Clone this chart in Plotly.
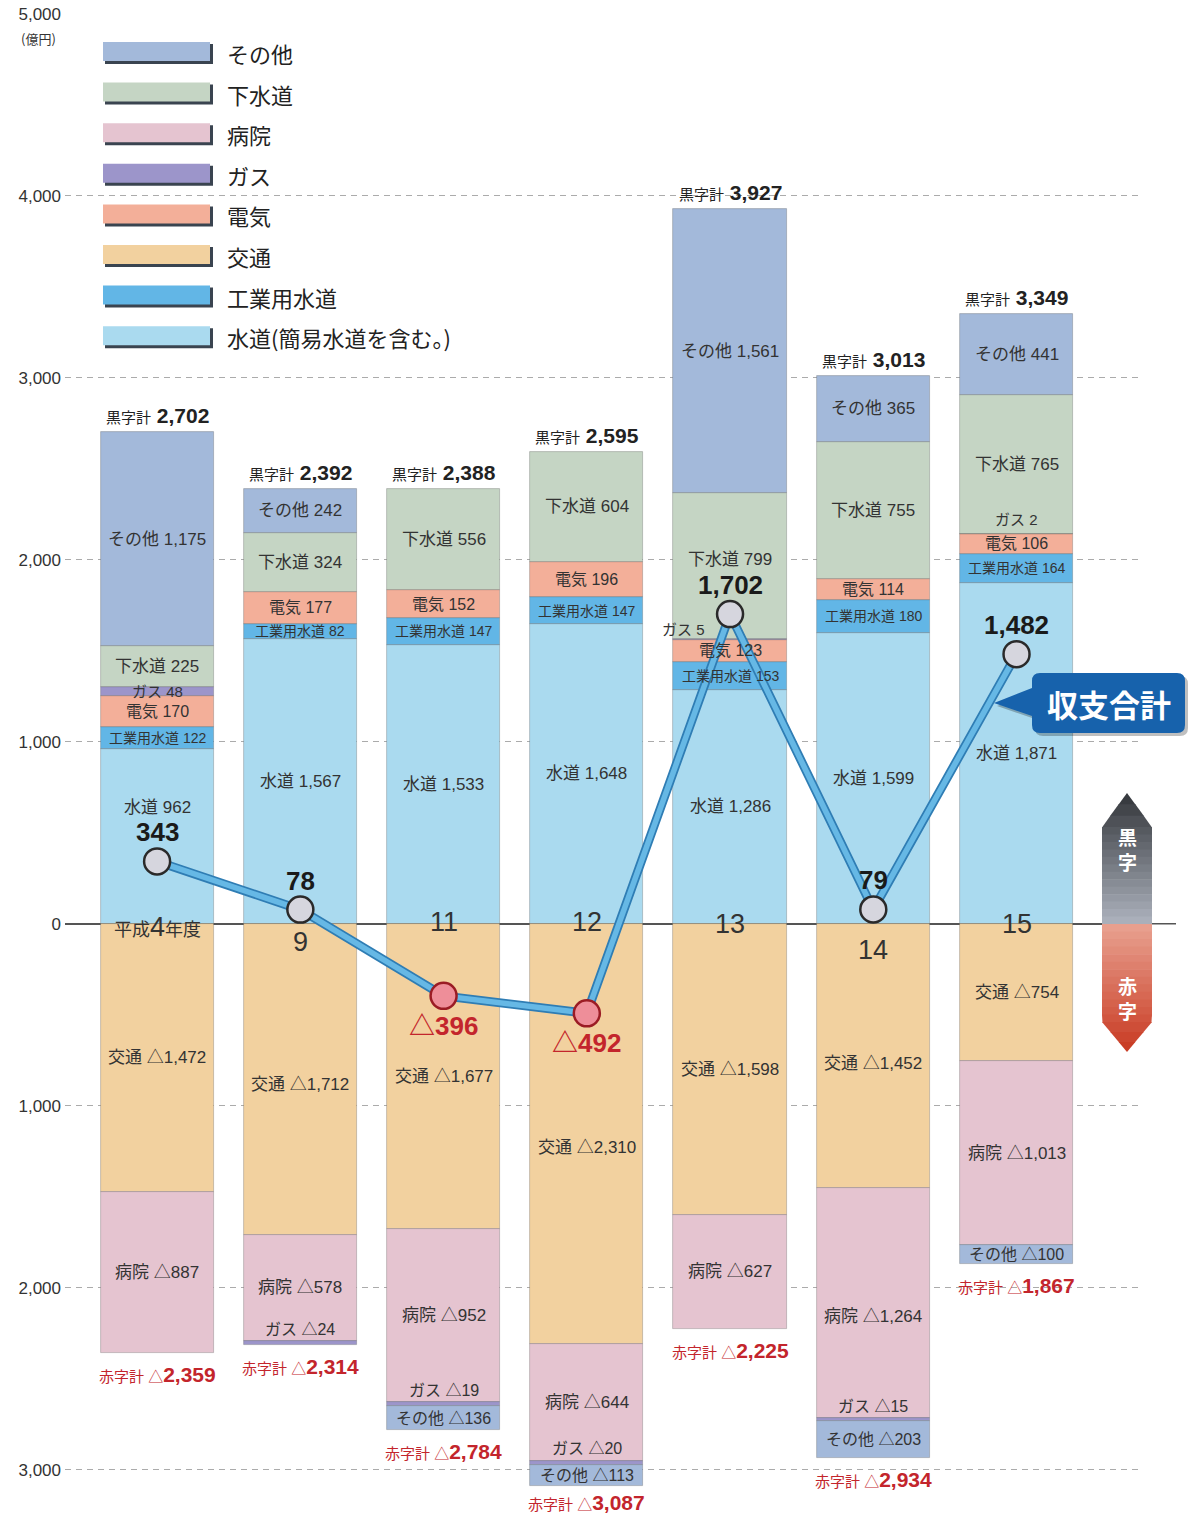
import plotly.graph_objects as go
import numpy as np

# ---------------- data ----------------
years = ["平成4年度", "9", "11", "12", "13", "14", "15"]

suido = [962, 1567, 1533, 1648, 1286, 1599, 1871]      # 水道(簡易水道を含む。)
kogyo = [122, 82, 147, 147, 153, 180, 164]             # 工業用水道
denki = [170, 177, 152, 196, 123, 114, 106]            # 電気
gas_pos = [48, 0, 0, 0, 5, 0, 2]                       # ガス (黒字)
gesui = [225, 324, 556, 604, 799, 755, 765]            # 下水道
sonota_pos = [1175, 242, 0, 0, 1561, 365, 441]         # その他 (黒字)

kotsu = [1472, 1712, 1677, 2310, 1598, 1452, 754]      # 交通 (赤字)
byoin = [887, 578, 952, 644, 627, 1264, 1013]          # 病院 (赤字)
gas_neg = [0, 24, 19, 20, 0, 15, 0]                    # ガス (赤字)
sonota_neg = [0, 0, 136, 113, 0, 203, 100]             # その他 (赤字)

surplus_total = [2702, 2392, 2388, 2595, 3927, 3013, 3349]
deficit_total = [2359, 2314, 2784, 3087, 2225, 2934, 1867]
net_total = [343, 78, -396, -492, 1702, 79, 1482]

tick_values = [5000, 4000, 3000, 2000, 1000, 0, -1000, -2000, -3000]

# ---------------- style ----------------
C_SONOTA = "#A3B9DA"
C_GESUI = "#C5D5C4"
C_BYOIN = "#E5C4D0"
C_GAS = "#9C95CA"
C_DENKI = "#F3AF99"
C_KOTSU = "#F2D19F"
C_KOGYO = "#62B6E6"
C_SUIDO = "#AADAEF"
RED = "#C3252C"
TXT = "#333333"
FONT = "Liberation Sans, Noto Sans CJK JP, sans-serif"
JFONT = "Noto Sans CJK JP, sans-serif"

W, H = 1194, 1515
ML, MR, MT, MB = 65, 54, 14, 18
Y_MIN, Y_MAX = -3150, 5000
X_MIN, X_MAX = -0.643, 6.862
PW = W - ML - MR
PH = H - MT - MB


def pxx(px):
    return (px - ML) / PW


def pxy(py):
    return 1 - (py - MT) / PH


xs = list(range(len(years)))

pos_series = [
    ("水道", suido, C_SUIDO, 17),
    ("工業用水道", kogyo, C_KOGYO, 14),
    ("電気", denki, C_DENKI, 16),
    ("ガス", gas_pos, C_GAS, 15),
    ("下水道", gesui, C_GESUI, 17),
    ("その他", sonota_pos, C_SONOTA, 17),
]
neg_series = [
    ("交通", kotsu, C_KOTSU, 17),
    ("病院", byoin, C_BYOIN, 17),
    ("ガス", gas_neg, C_GAS, 16),
    ("その他", sonota_neg, C_SONOTA, 16),
]

# label placement tweaks (pixels): (sign, name, index) -> (xshift, yshift)
tweaks = {
    ("+", "水道", 0): (0, 29),
    ("+", "ガス", 4): (-47, 10),
    ("+", "ガス", 6): (0, 15),
    ("+", "下水道", 4): (0, 6),
    ("-", "ガス", 1): (0, 13),
    ("-", "ガス", 2): (0, 13),
    ("-", "ガス", 3): (0, 15),
    ("-", "ガス", 5): (0, 13),
    ("-", "交通", 1): (0, -5),
    ("-", "交通", 3): (0, -14),
    ("-", "交通", 5): (0, -8),
    ("-", "病院", 5): (0, -13),
}
deficit_label_shift = [-8, -8, -8, -3, -8, -8, -8]

fig = go.Figure()
annotations = []

bar_line = dict(width=0.8, color="rgba(70,70,70,0.35)")
BAR_W = 0.79

pos_cum = [0] * len(xs)
for name, vals, color, fs in pos_series:
    fig.add_trace(go.Bar(
        x=xs, y=[v if v else None for v in vals], width=BAR_W,
        marker=dict(color=color, line=bar_line), name=name,
        showlegend=False, hoverinfo="skip"))
    for i, v in enumerate(vals):
        if not v:
            continue
        c = pos_cum[i] + v / 2
        pos_cum[i] += v
        dx, dy = tweaks.get(("+", name, i), (0, 0))
        annotations.append(dict(
            x=xs[i], y=c, xref="x", yref="y", text=f"{name} {v:,}",
            showarrow=False, xshift=dx, yshift=dy,
            font=dict(family=FONT, size=fs, color=TXT)))

neg_cum = [0] * len(xs)
for name, vals, color, fs in neg_series:
    fig.add_trace(go.Bar(
        x=xs, y=[-v if v else None for v in vals], width=BAR_W,
        marker=dict(color=color, line=bar_line), name=name,
        showlegend=False, hoverinfo="skip"))
    for i, v in enumerate(vals):
        if not v:
            continue
        c = neg_cum[i] - v / 2
        neg_cum[i] -= v
        dx, dy = tweaks.get(("-", name, i), (0, 0))
        annotations.append(dict(
            x=xs[i], y=c, xref="x", yref="y", text=f"{name} △{v:,}",
            showarrow=False, xshift=dx, yshift=dy,
            font=dict(family=FONT, size=fs, color=TXT)))

# net total line
fig.add_trace(go.Scatter(
    x=xs, y=net_total, mode="lines",
    line=dict(color="#2F7DB4", width=9), showlegend=False, hoverinfo="skip"))
fig.add_trace(go.Scatter(
    x=xs, y=net_total, mode="lines",
    line=dict(color="#66B8E5", width=5.5), showlegend=False, hoverinfo="skip"))
fig.add_trace(go.Scatter(
    x=xs, y=net_total, mode="markers",
    marker=dict(size=26,
                color=["#D6D6DE" if v >= 0 else "#EE8E99" for v in net_total],
                line=dict(width=2.5,
                          color=["#2A2A2A" if v >= 0 else "#9B1C24" for v in net_total])),
    showlegend=False, hoverinfo="skip"))

# total labels
for i in xs:
    annotations.append(dict(
        x=xs[i], y=surplus_total[i], xref="x", yref="y", yanchor="bottom",
        yshift=3, showarrow=False,
        text=f"<span style='font-size:15px'>黒字計</span> <b>{surplus_total[i]:,}</b>",
        font=dict(family=FONT, size=21, color="#222222")))
    annotations.append(dict(
        x=xs[i], y=-deficit_total[i], xref="x", yref="y", yanchor="top",
        yshift=deficit_label_shift[i], showarrow=False,
        text=f"<span style='font-size:15px'>赤字計 △</span><b>{deficit_total[i]:,}</b>",
        font=dict(family=FONT, size=21, color=RED)))

# net labels
for i, v in enumerate(net_total):
    if v >= 0:
        annotations.append(dict(
            x=xs[i], y=v, xref="x", yref="y", yshift=29, showarrow=False,
            text=f"<b>{v:,}</b>", font=dict(family=FONT, size=26, color="#1A1A1A")))
    else:
        annotations.append(dict(
            x=xs[i], y=v, xref="x", yref="y", yshift=-30, showarrow=False,
            text=f"<b>△{abs(v):,}</b>", font=dict(family=FONT, size=26, color=RED)))

# year labels at the zero line
year_shift = [-3, -18, 2, 2, 0, -26, 0]
for i, yl in enumerate(years):
    if i == 0:
        txt = yl.replace("4", "<span style='font-size:27px'>4</span>")
        fs = 18
    else:
        txt = yl
        fs = 27
    annotations.append(dict(
        x=xs[i], y=0, xref="x", yref="y", yshift=year_shift[i], showarrow=False,
        text=txt, font=dict(family=FONT, size=fs, color=TXT)))


def paper_text(px, py, text, size, color, family=JFONT, xanchor="center"):
    return dict(x=pxx(px), y=pxy(py), xref="paper", yref="paper",
                xanchor=xanchor, yanchor="middle", showarrow=False, text=text,
                font=dict(family=family, size=size, color=color))


# unit label
annotations.append(paper_text(38, 38, "(億円)", 13, TXT))

shapes = []

# zero line extending to the right
shapes.append(dict(type="line", xref="paper", yref="y", x0=0, x1=pxx(1176),
                   y0=0, y1=0, line=dict(color="#555555", width=1.5), layer="between"))

# legend (manual)
legend_items = [
    ("その他", C_SONOTA), ("下水道", C_GESUI), ("病院", C_BYOIN), ("ガス", C_GAS),
    ("電気", C_DENKI), ("交通", C_KOTSU), ("工業用水道", C_KOGYO),
    ("水道(簡易水道を含む。)", C_SUIDO),
]
for k, (lab, col) in enumerate(legend_items):
    cy = 52 + k * 40.6
    shapes.append(dict(type="rect", xref="paper", yref="paper",
                       x0=pxx(105), x1=pxx(213), y0=pxy(cy + 12), y1=pxy(cy - 8),
                       fillcolor="#3A4450", line=dict(width=0), layer="above"))
    shapes.append(dict(type="rect", xref="paper", yref="paper",
                       x0=pxx(103), x1=pxx(210), y0=pxy(cy + 9), y1=pxy(cy - 10),
                       fillcolor=col, line=dict(width=0), layer="above"))
    annotations.append(paper_text(225, cy + 1, lab, 22, "#222222", xanchor="left"))

# 黒字 / 赤字 arrow with gradient bands
cx, hw = 1127, 25
top_tip, top_sh, zero_px, bot_sh, bot_tip = 793, 827, 924, 1022, 1052


def half_w(y):
    if y < top_sh:
        return hw * (y - top_tip) / (top_sh - top_tip)
    if y > bot_sh:
        return hw * (bot_tip - y) / (bot_tip - bot_sh)
    return hw


def lerp_col(c1, c2, t):
    a = np.array([int(c1[i:i + 2], 16) for i in (1, 3, 5)])
    b = np.array([int(c2[i:i + 2], 16) for i in (1, 3, 5)])
    c = (a + (b - a) * t).round().astype(int)
    return "#%02X%02X%02X" % tuple(c)


def band(ya, yb, col):
    wa, wb = half_w(ya), half_w(yb)
    path = (f"M {pxx(cx - wa)} {pxy(ya)} L {pxx(cx + wa)} {pxy(ya)} "
            f"L {pxx(cx + wb)} {pxy(yb)} L {pxx(cx - wb)} {pxy(yb)} Z")
    return dict(type="path", xref="paper", yref="paper", path=path,
                fillcolor=col, line=dict(width=0), layer="above")


top_b = list(np.linspace(top_tip, top_sh, 4)) + list(np.linspace(top_sh, zero_px, 14)[1:])
for a, b in zip(top_b[:-1], top_b[1:]):
    t = ((a + b) / 2 - top_tip) / (zero_px - top_tip)
    shapes.append(band(a, min(b + 0.6, zero_px), lerp_col("#33363A", "#AEB3BE", t)))
bot_b = list(np.linspace(zero_px, bot_sh, 14)) + list(np.linspace(bot_sh, bot_tip, 4)[1:])
for a, b in zip(bot_b[:-1], bot_b[1:]):
    t = ((a + b) / 2 - zero_px) / (bot_tip - zero_px)
    shapes.append(band(a, min(b + 0.6, bot_tip), lerp_col("#E9A291", "#C83A22", t)))

annotations.append(paper_text(cx, 849, "<b>黒<br>字</b>", 19, "white"))
annotations.append(paper_text(cx, 998, "<b>赤<br>字</b>", 19, "white"))


# 収支合計 callout
def callout_path(off):
    x0, x1, y0, y1, r = 1032 + off, 1185 + off, 673 + off, 733 + off, 8
    tipx, tipy = 994 + off, 703 + off
    wt, wb = 688 + off, 716 + off
    pts = [
        f"M {pxx(x0 + r)} {pxy(y0)}",
        f"L {pxx(x1 - r)} {pxy(y0)}",
        f"Q {pxx(x1)} {pxy(y0)} {pxx(x1)} {pxy(y0 + r)}",
        f"L {pxx(x1)} {pxy(y1 - r)}",
        f"Q {pxx(x1)} {pxy(y1)} {pxx(x1 - r)} {pxy(y1)}",
        f"L {pxx(x0 + r)} {pxy(y1)}",
        f"Q {pxx(x0)} {pxy(y1)} {pxx(x0)} {pxy(y1 - r)}",
        f"L {pxx(x0)} {pxy(wb)}",
        f"L {pxx(tipx)} {pxy(tipy)}",
        f"L {pxx(x0)} {pxy(wt)}",
        f"L {pxx(x0)} {pxy(y0 + r)}",
        f"Q {pxx(x0)} {pxy(y0)} {pxx(x0 + r)} {pxy(y0)}",
        "Z",
    ]
    return " ".join(pts)


shapes.append(dict(type="path", xref="paper", yref="paper", path=callout_path(3),
                   fillcolor="rgba(0,0,0,0.25)", line=dict(width=0), layer="above"))
shapes.append(dict(type="path", xref="paper", yref="paper", path=callout_path(0),
                   fillcolor="#1762AC", line=dict(width=0), layer="above"))
annotations.append(paper_text(1109, 704, "<b>収支合計</b>", 31, "white"))

fig.update_layout(
    width=W, height=H,
    margin=dict(l=ML, r=MR, t=MT, b=MB, autoexpand=False),
    paper_bgcolor="white", plot_bgcolor="white",
    barmode="relative", bargap=0,
    xaxis=dict(range=[X_MIN, X_MAX], showgrid=False, zeroline=False,
               showticklabels=False, showline=False, fixedrange=True),
    yaxis=dict(range=[Y_MIN, Y_MAX], tickvals=tick_values,
               ticktext=[f"{abs(v):,}" for v in tick_values],
               showgrid=True, gridcolor="#ABABAB", gridwidth=1, griddash="6px,5px",
               zeroline=True, zerolinecolor="#555555", zerolinewidth=1.5,
               showline=False, ticks="", ticklabelstandoff=3,
               tickfont=dict(family=FONT, size=17, color=TXT)),
    annotations=annotations, shapes=shapes,
    font=dict(family=FONT),
)

fig.write_html("out.html",
               config={"displayModeBar": False},
               post_script="document.body.style.margin='0px';"
                           "document.body.style.overflow='hidden';")
